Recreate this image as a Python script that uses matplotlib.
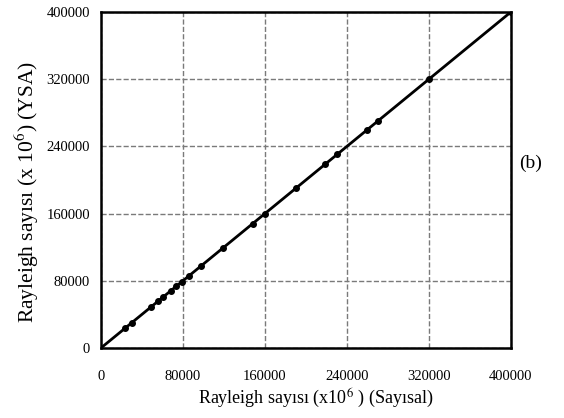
import numpy as np
import matplotlib.pyplot as plt

plt.rcParams['font.family'] = ['Liberation Serif', 'DejaVu Serif']
plt.rcParams['mathtext.fontset'] = 'stix'

# Rayleigh numbers (x10^6): numerical vs ANN (YSA)
ra_sayisal = [23400, 30300, 48800, 55600, 60500, 68300, 73200, 79000, 85900,
              97600, 119000, 148000, 160000, 190000, 218600, 230300, 259600,
              270400, 320000, 400000]
ra_ysa = [23400, 30300, 48800, 55600, 60500, 68300, 73200, 79000, 85900,
          97600, 119000, 148000, 160000, 190000, 218600, 230300, 259600,
          270400, 320000, 400000]
fit_x = [0, 400000]
fit_y = [0, 400000]
ticks = [0, 80000, 160000, 240000, 320000, 400000]

fig = plt.figure(figsize=(5.64, 4.18), dpi=100)
ax = fig.add_axes([0.179, 0.1675, 0.727, 0.804])

ax.plot(fit_x, fit_y, color='black', lw=2, zorder=3)
ax.plot(ra_sayisal, ra_ysa, 'o', color='black', ms=4, zorder=4)

ax.set_xlim(0, 400000)
ax.set_ylim(0, 400000)
ax.set_xticks(ticks)
ax.set_yticks(ticks)
ax.tick_params(length=0, labelsize=10.5)
ax.tick_params(axis='x', pad=16)
ax.tick_params(axis='y', pad=8)
ax.grid(True, color='#7a7a7a', ls='--', lw=1)
for s in ax.spines.values():
    s.set_linewidth(1.8)

fig.text(0.560, 0.048, r'Rayleigh sayısı (x10$^6$ ) (Sayısal)', fontsize=13,
         ha='center', va='center')
fig.text(0.048, 0.541, r'Rayleigh sayısı (x 10$^6$) (YSA)', fontsize=15.5,
         rotation=90, ha='center', va='center')
fig.text(0.94, 0.61, '(b)', fontsize=14, ha='center', va='center')

fig.savefig('out.png', dpi=100)
